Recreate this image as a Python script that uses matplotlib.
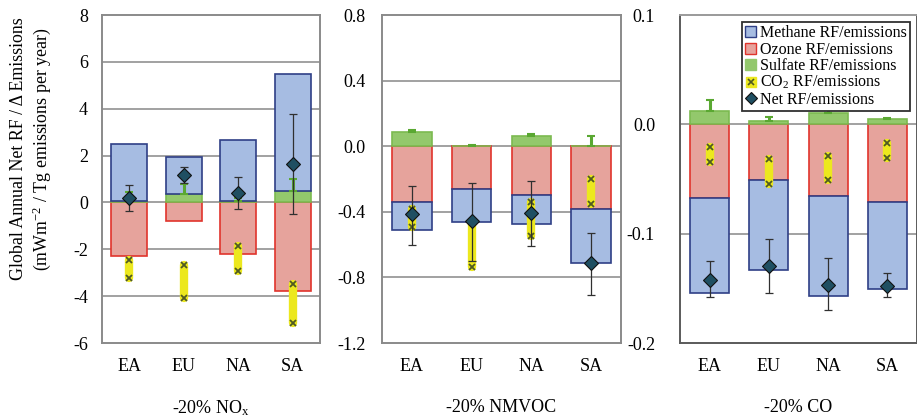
import matplotlib
matplotlib.use("Agg")
import matplotlib.pyplot as plt
import numpy as np
from matplotlib.patches import Patch
from matplotlib.lines import Line2D

plt.rcParams['font.family'] = ['Liberation Serif', 'DejaVu Serif']
plt.rcParams['mathtext.fontset'] = 'stix'

categories = ['EA', 'EU', 'NA', 'SA']

# -20% NOx
nox_methane = [2.45, 1.58, 2.62, 5.00]
nox_ozone = [-2.30, -0.80, -2.22, -3.80]
nox_sulfate = [0.05, 0.38, 0.05, 0.47]
nox_sulfate_hi = [0.45, 0.80, 0.20, 1.00]
nox_co2_lo = [-3.23, -4.07, -2.94, -5.15]
nox_co2_hi = [-2.45, -2.69, -1.88, -3.47]
nox_net = [0.18, 1.18, 0.41, 1.65]
nox_net_lo = [-0.37, 0.85, -0.27, -0.48]
nox_net_hi = [0.73, 1.52, 1.08, 3.78]

# -20% NMVOC
voc_methane = [-0.17, -0.20, -0.175, -0.335]
voc_ozone = [-0.34, -0.264, -0.30, -0.38]
voc_sulfate = [0.087, 0.003, 0.061, 0.004]
voc_sulfate_hi = [0.10, 0.008, 0.075, 0.06]
voc_co2_lo = [-0.49, -0.735, -0.55, -0.35]
voc_co2_hi = [-0.38, -0.46, -0.34, -0.197]
voc_net = [-0.415, -0.457, -0.41, -0.715]
voc_net_lo = [-0.60, -0.70, -0.61, -0.91]
voc_net_hi = [-0.24, -0.224, -0.21, -0.53]

# -20% CO
co_methane = [-0.087, -0.082, -0.091, -0.080]
co_ozone = [-0.067, -0.051, -0.066, -0.071]
co_sulfate = [0.0122, 0.003, 0.010, 0.0046]
co_sulfate_hi = [0.022, 0.0069, 0.013, 0.006]
co_co2_lo = [-0.034, -0.0545, -0.051, -0.031]
co_co2_hi = [-0.021, -0.032, -0.029, -0.017]
co_net = [-0.142, -0.130, -0.147, -0.148]
co_net_lo = [-0.158, -0.154, -0.170, -0.158]
co_net_hi = [-0.125, -0.105, -0.122, -0.136]

panel_titles = ['-20% NO$_{\\mathregular{x}}$', '-20% NMVOC', '-20% CO']
ylims = [(-6, 8), (-1.2, 0.8), (-0.2, 0.1)]
yticks = [np.arange(-6, 8.1, 2), np.arange(-1.2, 0.81, 0.4), np.arange(-0.2, 0.11, 0.1)]
ytick_labels = [['-6', '-4', '-2', '0', '2', '4', '6', '8'],
                ['-1.2', '-0.8', '-0.4', '0.0', '0.4', '0.8'],
                ['-0.2', '-0.1', '0.0', '0.1']]
tick_pads = [10, 12, 18]

C_METH = '#a6bce2'; E_METH = '#2f3f86'
C_OZ = '#e6a39c'; E_OZ = '#e0342c'
C_SUL = '#93c86c'; E_SUL = '#7cba50'
C_CO2 = '#ece81e'; M_CO2 = '#4f5a22'
C_NET = '#1f4f62'

panels = [
    (nox_methane, nox_ozone, nox_sulfate, nox_sulfate_hi, nox_co2_lo, nox_co2_hi, nox_net, nox_net_lo, nox_net_hi),
    (voc_methane, voc_ozone, voc_sulfate, voc_sulfate_hi, voc_co2_lo, voc_co2_hi, voc_net, voc_net_lo, voc_net_hi),
    (co_methane, co_ozone, co_sulfate, co_sulfate_hi, co_co2_lo, co_co2_hi, co_net, co_net_lo, co_net_hi),
]

fig = plt.figure(figsize=(9.17, 4.2), dpi=100)
W, H = 917.0, 420.0
ax_px = [(102, 320), (382, 621), (680, 917)]
top_px, bot_px = 15, 343

x = np.arange(len(categories))
bw = 0.66
FS = 13

for i, (meth, oz, sul, sulhi, clo, chi, net, nlo, nhi) in enumerate(panels):
    l, r = ax_px[i]
    ax = fig.add_axes([l / W, 1 - bot_px / H, (r - l) / W, (bot_px - top_px) / H])
    ax.set_xlim(-0.5, len(categories) - 0.5)
    ax.set_ylim(*ylims[i])
    ax.set_yticks(yticks[i])
    ax.set_yticklabels(ytick_labels[i])
    ax.set_xticks(x)
    ax.set_xticklabels(categories)
    ax.tick_params(axis='y', length=0, pad=tick_pads[i], labelsize=FS)
    ax.tick_params(axis='x', length=0, pad=11, labelsize=FS)
    for t in yticks[i][1:-1]:
        ax.axhline(t, color='#9a9a9a', lw=1.3, zorder=0)
    sp_col = '#8a8a8a' if i < 2 else '#5a5a5a'
    for s in ax.spines.values():
        s.set_color(sp_col)
        s.set_linewidth(1.4)
    if i == 2:
        ax.spines['top'].set_color('#9a9a9a')

    # stacked bars: ozone, sulfate, methane (positives and negatives stacked separately)
    pos = np.zeros(len(categories)); neg = np.zeros(len(categories))
    sul_top = np.zeros(len(categories))
    for vals, fc, ec, key in [(oz, C_OZ, E_OZ, 'oz'), (sul, C_SUL, E_SUL, 'sul'), (meth, C_METH, E_METH, 'meth')]:
        vals = np.asarray(vals, dtype=float)
        bottoms = np.where(vals >= 0, pos, neg)
        ax.bar(x, vals, bw, bottom=bottoms, color=fc, edgecolor=ec, linewidth=1.2, zorder=2)
        if key == 'sul':
            sul_top = bottoms + vals
        pos = np.where(vals >= 0, pos + vals, pos)
        neg = np.where(vals < 0, neg + vals, neg)

    # CO2 range band
    for xi, a, b in zip(x, clo, chi):
        ax.plot([xi, xi], [a, b], color=C_CO2, lw=6, solid_capstyle='round', zorder=3)
    ax.plot(x, clo, ls='none', marker='x', ms=5, mew=1.3, color=M_CO2, zorder=4)
    ax.plot(x, chi, ls='none', marker='x', ms=5, mew=1.3, color=M_CO2, zorder=4)

    # sulfate uncertainty (green)
    sulhi = np.asarray(sulhi, dtype=float)
    ax.errorbar(x, sul_top, yerr=[np.zeros(len(x)), np.maximum(sulhi - sul_top, 0)],
                fmt='none', ecolor='#5aa832', elinewidth=2.2, capsize=3, capthick=1.5, zorder=4)

    # net with error bars
    net = np.asarray(net, dtype=float)
    ax.errorbar(x, net, yerr=[net - np.asarray(nlo), np.asarray(nhi) - net],
                fmt='none', ecolor='#303030', elinewidth=0.9, capsize=3, capthick=0.9, zorder=5)
    ax.plot(x, net, ls='none', marker='D', ms=7.5, mfc=C_NET, mec='#101010', mew=0.8, zorder=6)

    fig.text((l + r) / 2 / W, 1 - 408 / H, panel_titles[i], ha='center', va='center', fontsize=FS)

    if i == 2:
        handles = [
            Patch(facecolor=C_METH, edgecolor=E_METH, lw=1),
            Patch(facecolor=C_OZ, edgecolor=E_OZ, lw=1),
            Patch(facecolor=C_SUL, edgecolor=C_SUL, lw=1),
            (Line2D([], [], ls='none', marker='s', ms=7, mfc=C_CO2, mec=C_CO2),
             Line2D([], [], ls='none', marker='x', ms=4.5, mew=1.2, color=M_CO2)),
            Line2D([], [], ls='none', marker='D', ms=6, mfc=C_NET, mec='#101010', mew=0.8),
        ]
        labels = ['Methane RF/emissions', 'Ozone RF/emissions', 'Sulfate RF/emissions',
                  'CO$_{\\mathregular{2}}$ RF/emissions', 'Net RF/emissions']
        leg = ax.legend(handles, labels, loc='upper right', bbox_to_anchor=(0.972, 0.978),
                        borderaxespad=0, fontsize=11.5, frameon=True, fancybox=False,
                        edgecolor='#303030', framealpha=1, handlelength=0.7, handleheight=0.7,
                        handletextpad=0.25, labelspacing=0.02, borderpad=0.2)
        leg.get_frame().set_linewidth(1.3)
        leg.set_zorder(10)

fig.text(19 / W, 1 - 149 / H, 'Global Annual Net RF / \u0394 Emissions', rotation=90,
         ha='center', va='center', fontsize=12.9)
fig.text(42 / W, 1 - 149 / H, '(mWm$^{\\mathregular{-2}}$ / Tg emissions per year)', rotation=90,
         ha='center', va='center', fontsize=12.9)

fig.savefig('out.png', dpi=100)
